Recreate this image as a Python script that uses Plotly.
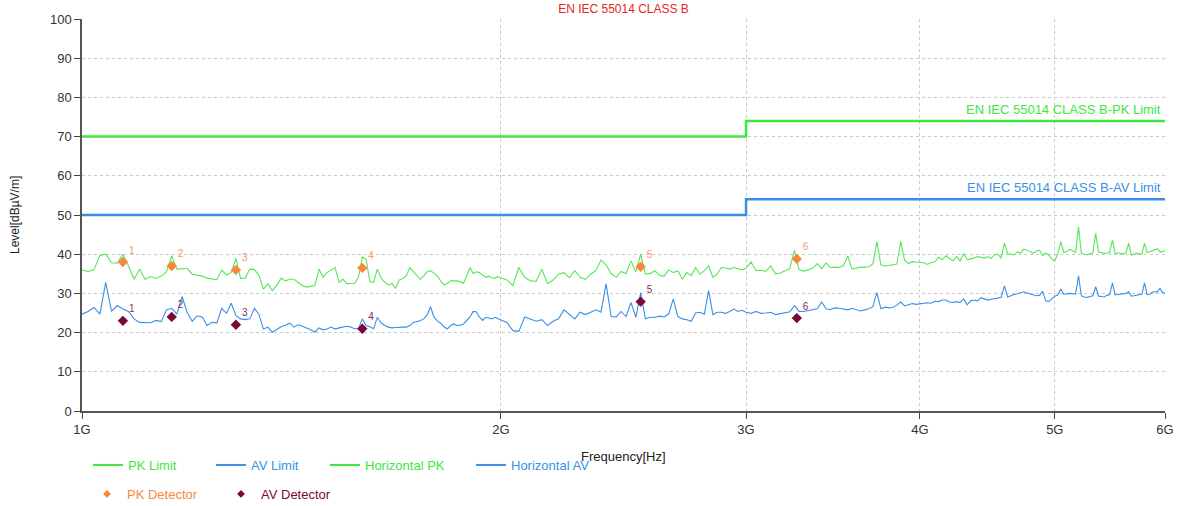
import math
import plotly.graph_objects as go

# ---------------- data ----------------
FREQ_1_2G_MHZ = list(range(1000, 2000, 10))
FREQ_2_3G_MHZ = list(range(2000, 3000, 20))
FREQ_3_6G_MHZ = list(range(3000, 6001, 25))

PK_1_2G = [36.0, 35.6, 36.0, 39.7, 40.0, 37.8, 37.7, 40.0, 37.0, 33.6,
           36.2, 33.6, 34.3, 33.8, 34.4, 35.5, 39.6, 36.2, 36.3, 36.4,
           34.9, 34.6, 34.4, 33.9, 33.7, 33.5, 36.0, 34.7, 35.3, 38.9,
           33.8, 33.9, 36.2, 36.1, 34.6, 31.1, 32.5, 30.7, 32.0, 33.9,
           33.2, 33.6, 33.6, 32.8, 32.0, 31.6, 31.8, 32.0, 36.2, 34.1,
           35.3, 36.0, 36.6, 32.8, 33.6, 32.5, 32.5, 32.6, 34.1, 39.3,
           38.7, 33.0, 32.8, 36.2, 34.0, 32.8, 32.2, 32.5, 31.3, 33.4,
           33.8, 34.5, 36.6, 35.5, 34.5, 33.6, 34.5, 35.5, 35.8, 35.2,
           34.5, 33.2, 32.2, 32.5, 33.2, 33.2, 33.2, 33.0, 32.6, 34.5,
           36.6, 35.1, 35.5, 35.3, 34.6, 34.1, 34.4, 34.0, 33.9, 34.3]
AV_1_2G = [24.7, 25.4, 26.4, 24.7, 32.8, 25.4, 26.9, 26.0, 25.4, 23.5,
           22.6, 22.5, 22.5, 23.1, 22.8, 25.8, 26.2, 24.7, 29.2, 25.2,
           22.9, 24.3, 24.0, 21.8, 22.6, 22.5, 26.2, 24.9, 27.5, 24.3,
           23.5, 23.3, 23.5, 26.2, 24.7, 20.9, 21.4, 20.1, 20.9, 21.5,
           21.9, 22.4, 21.4, 22.0, 21.6, 21.2, 20.7, 20.1, 21.2, 20.7,
           20.9, 21.4, 20.9, 21.2, 21.4, 21.6, 21.4, 21.0, 21.0, 23.5,
           21.8, 21.5, 21.0, 23.9, 22.5, 21.8, 21.4, 21.2, 21.3, 21.4,
           21.4, 21.4, 21.8, 22.6, 22.8, 23.0, 23.5, 24.5, 26.6, 24.0,
           23.0, 22.4, 21.5, 20.9, 21.8, 22.2, 21.8, 21.9, 22.2, 23.0,
           24.0, 25.4, 25.3, 24.0, 23.1, 23.9, 23.7, 23.5, 23.9, 23.6]

PK_2_3G = [34.0, 33.4, 32.0, 36.6, 34.1, 33.2, 33.1, 36.2, 32.5, 33.4,
           34.9, 35.3, 34.0, 35.8, 34.1, 33.6, 34.9, 35.8, 38.5, 37.3,
           35.0, 34.1, 35.6, 35.0, 38.3, 35.5, 40.0, 34.9, 35.1, 35.8,
           34.6, 34.4, 36.0, 35.3, 35.8, 33.6, 35.3, 34.5, 36.6, 34.9,
           35.8, 37.0, 34.1, 34.9, 36.6, 36.5, 36.2, 36.6, 36.3, 36.0]
AV_2_3G = [23.1, 22.6, 20.5, 20.3, 24.0, 23.5, 22.9, 23.3, 21.8, 22.9,
           23.5, 25.8, 24.6, 23.5, 25.2, 24.6, 25.2, 25.8, 25.2, 32.5,
           24.1, 24.0, 25.4, 24.1, 27.7, 23.9, 30.2, 23.5, 23.9, 23.9,
           24.2, 24.0, 24.8, 28.6, 24.1, 23.5, 23.3, 22.9, 25.0, 25.2,
           24.7, 30.7, 24.6, 25.2, 25.2, 24.9, 25.4, 26.0, 25.4, 25.7]

PK_3_6G = [36.4, 38.0, 35.8, 35.9, 35.6, 37.0, 35.0, 35.2, 35.8, 36.3,
           41.0, 36.0, 35.7, 36.0, 36.4, 37.6, 36.3, 37.8, 36.6, 36.7,
           36.6, 37.1, 39.5, 36.2, 36.4, 36.7, 36.7, 36.8, 37.5, 43.2,
           37.3, 37.0, 37.1, 37.3, 37.5, 43.2, 38.4, 37.6, 38.1, 38.0,
           37.9, 37.8, 37.4, 37.9, 38.0, 39.3, 38.5, 39.6, 38.9, 38.3,
           39.4, 38.3, 40.2, 38.6, 38.8, 39.0, 39.4, 39.1, 39.0, 39.4,
           38.9, 39.8, 40.0, 39.0, 42.9, 40.2, 39.9, 39.8, 40.6, 40.3,
           41.3, 41.1, 40.6, 40.2, 40.8, 41.0, 39.7, 40.3, 39.8, 38.8,
           38.3, 40.2, 43.2, 40.4, 40.6, 41.2, 40.9, 40.4, 46.9, 40.3,
           40.0, 39.8, 40.1, 40.3, 45.3, 40.6, 40.4, 40.2, 40.3, 40.5,
           43.6, 40.2, 40.3, 40.2, 40.1, 40.3, 42.8, 39.8, 40.0, 40.2,
           40.1, 40.0, 42.8, 40.4, 40.6, 40.9, 41.2, 41.4, 40.6, 40.6,
           41.1]
AV_3_6G = [25.2, 24.9, 25.4, 24.9, 25.0, 25.2, 24.6, 24.9, 25.1, 25.3,
           26.9, 25.4, 25.4, 25.7, 25.8, 26.1, 27.8, 26.0, 25.9, 26.3,
           26.2, 26.0, 25.8, 26.2, 25.8, 25.5, 25.8, 26.1, 26.6, 30.2,
           26.1, 26.5, 26.3, 26.4, 27.0, 27.8, 26.8, 27.1, 27.4, 27.2,
           27.3, 27.5, 27.6, 27.5, 28.0, 27.9, 28.3, 28.3, 27.8, 27.7,
           27.9, 27.7, 28.6, 27.1, 28.1, 28.3, 28.1, 28.9, 28.6, 28.3,
           28.5, 28.6, 28.8, 29.0, 31.9, 29.1, 29.3, 29.7, 29.9, 30.2,
           30.4, 30.1, 29.8, 29.6, 29.4, 29.5, 30.5, 28.1, 27.9, 28.6,
           29.3, 29.6, 31.1, 29.8, 30.0, 30.0, 29.9, 29.8, 34.5, 29.4,
           29.1, 29.0, 29.2, 29.4, 31.7, 29.3, 29.2, 29.1, 29.5, 29.7,
           32.6, 29.6, 29.7, 29.8, 29.9, 30.0, 30.4, 29.3, 29.4, 29.6,
           29.7, 29.8, 32.7, 29.7, 29.8, 30.3, 30.4, 30.4, 31.3, 30.2,
           30.0]

FREQ_MHZ = FREQ_1_2G_MHZ + FREQ_2_3G_MHZ + FREQ_3_6G_MHZ
PK_TRACE = PK_1_2G + PK_2_3G + PK_3_6G
AV_TRACE = AV_1_2G + AV_2_3G + AV_3_6G

LIMIT_FREQ_MHZ = [1000, 3000, 6000]
PK_LIMIT = [70, 74, 74]
AV_LIMIT = [50, 54, 54]

DET_FREQ_MHZ = [1070, 1160, 1290, 1590, 2520, 3263]
DET_LABELS = ["1", "2", "3", "4", "5", "6"]
PK_DET = [38.0, 37.0, 36.0, 36.5, 36.8, 38.8]
AV_DET = [23.0, 24.0, 22.0, 21.0, 27.9, 23.7]

TICK_FREQ_HZ = [1e9, 2e9, 3e9, 4e9, 5e9, 6e9]
TICK_TEXT = ["1G", "2G", "3G", "4G", "5G", "6G"]

# ---------------- style ----------------
GREEN = "#3EE63E"
GREEN_T = "#55E655"
BLUE = "#3A8FE6"
ORANGE = "#F7883A"
MAROON = "#780A3A"
FONT = "Liberation Sans, Arial, sans-serif"

def hz(lst):
    return [v * 1e6 for v in lst]

def lg(name, color):
    return f"<span style='color:{color}'>{name}</span>"

fig = go.Figure()
# chart lines
fig.add_trace(go.Scatter(x=hz(LIMIT_FREQ_MHZ), y=PK_LIMIT, mode="lines", line_shape="hv",
                         line=dict(color=GREEN, width=2.5), name="PK Limit", showlegend=False))
fig.add_trace(go.Scatter(x=hz(LIMIT_FREQ_MHZ), y=AV_LIMIT, mode="lines", line_shape="hv",
                         line=dict(color=BLUE, width=2.5), name="AV Limit", showlegend=False))
fig.add_trace(go.Scatter(x=hz(FREQ_MHZ), y=PK_TRACE, mode="lines",
                         line=dict(color=GREEN_T, width=1.1), name="Horizontal PK", showlegend=False))
fig.add_trace(go.Scatter(x=hz(FREQ_MHZ), y=AV_TRACE, mode="lines",
                         line=dict(color=BLUE, width=1.1), name="Horizontal AV", showlegend=False))
# detector points on the chart
fig.add_trace(go.Scatter(x=hz(DET_FREQ_MHZ), y=PK_DET, mode="markers+text", text=DET_LABELS,
                         textposition="top right", textfont=dict(size=10, color="#F59A6A", family=FONT),
                         marker=dict(symbol="diamond", size=8, color=ORANGE),
                         name="PK Detector", showlegend=False))
fig.add_trace(go.Scatter(x=hz(DET_FREQ_MHZ), y=AV_DET, mode="markers+text", text=DET_LABELS,
                         textposition="top right", textfont=dict(size=10, color="#8A2A55", family=FONT),
                         marker=dict(symbol="diamond", size=8, color=MAROON),
                         name="AV Detector", showlegend=False))

# legend swatches
LEGEND_LINES = [("PK Limit", GREEN, 78), ("AV Limit", BLUE, 69),
                ("Horizontal PK", GREEN, 101), ("Horizontal AV", BLUE, 100)]
for name, color, w in LEGEND_LINES:
    fig.add_trace(go.Scatter(x=[None], y=[None], mode="lines", line=dict(color=color, width=2),
                             name=lg(name, color), legend="legend", legendwidth=w))
for name, color in [("PK Detector", ORANGE), ("AV Detector", MAROON)]:
    fig.add_trace(go.Scatter(x=[None], y=[None], mode="markers",
                             marker=dict(symbol="diamond", size=6, color=color),
                             name=lg(name, color), legend="legend2", legendwidth=89))

axis_common = dict(showgrid=True, gridcolor="#C8C8C8", griddash="dot", gridwidth=1,
                   showline=True, linecolor="#555555", linewidth=1.5, ticks="outside",
                   ticklen=6, tickcolor="#444444", tickfont=dict(size=13, color="#333333", family=FONT),
                   zeroline=False, automargin=False)

fig.update_layout(
    width=1179, height=506,
    margin=dict(l=82, r=14, t=19, b=95, autoexpand=False),
    paper_bgcolor="white", plot_bgcolor="white",
    font=dict(family=FONT, size=13, color="#333333"),
    title=dict(text="EN IEC 55014 CLASS B", x=0.5, xref="paper", y=1 - 9 / 506, yanchor="middle",
               font=dict(size=12, color="#E0281E", family=FONT)),
    xaxis=dict(type="log", range=[math.log10(1e9), math.log10(6e9)], tickvals=TICK_FREQ_HZ,
               ticktext=TICK_TEXT, **axis_common),
    yaxis=dict(range=[0, 100], dtick=10, **axis_common),
    showlegend=True,
    legend=dict(orientation="h", x=6 / 1083, xanchor="left", y=-39 / 392, yanchor="top",
                font=dict(size=13, family=FONT), itemwidth=30, bgcolor="rgba(0,0,0,0)"),
    legend2=dict(orientation="h", x=5 / 1083, xanchor="left", y=-68 / 392, yanchor="top",
                 font=dict(size=13, family=FONT), itemwidth=30, bgcolor="rgba(0,0,0,0)"),
)

fig.add_annotation(x=math.log10(6e9), y=74, xref="x", yref="y", text="EN IEC 55014 CLASS B-PK Limit",
                   showarrow=False, xanchor="right", yanchor="bottom", yshift=2, xshift=-2,
                   font=dict(size=13, color=GREEN, family=FONT))
fig.add_annotation(x=math.log10(6e9), y=54, xref="x", yref="y", text="EN IEC 55014 CLASS B-AV Limit",
                   showarrow=False, xanchor="right", yanchor="bottom", yshift=2, xshift=-2,
                   font=dict(size=13, color=BLUE, family=FONT))
fig.add_annotation(x=0.5, y=-45 / 392, xref="paper", yref="paper", text="Frequency[Hz]",
                   showarrow=False, xanchor="center", yanchor="middle",
                   font=dict(size=13, color="#222222", family=FONT))
fig.add_annotation(x=-67 / 1083, y=0.5, xref="paper", yref="paper", text="Level[dBµV/m]",
                   showarrow=False, textangle=-90, xanchor="center", yanchor="middle",
                   font=dict(size=12, color="#222222", family=FONT))

fig.write_html("out.html", config={"displayModeBar": False},
               post_script="document.body.style.margin='0';document.body.style.overflow='hidden';")
